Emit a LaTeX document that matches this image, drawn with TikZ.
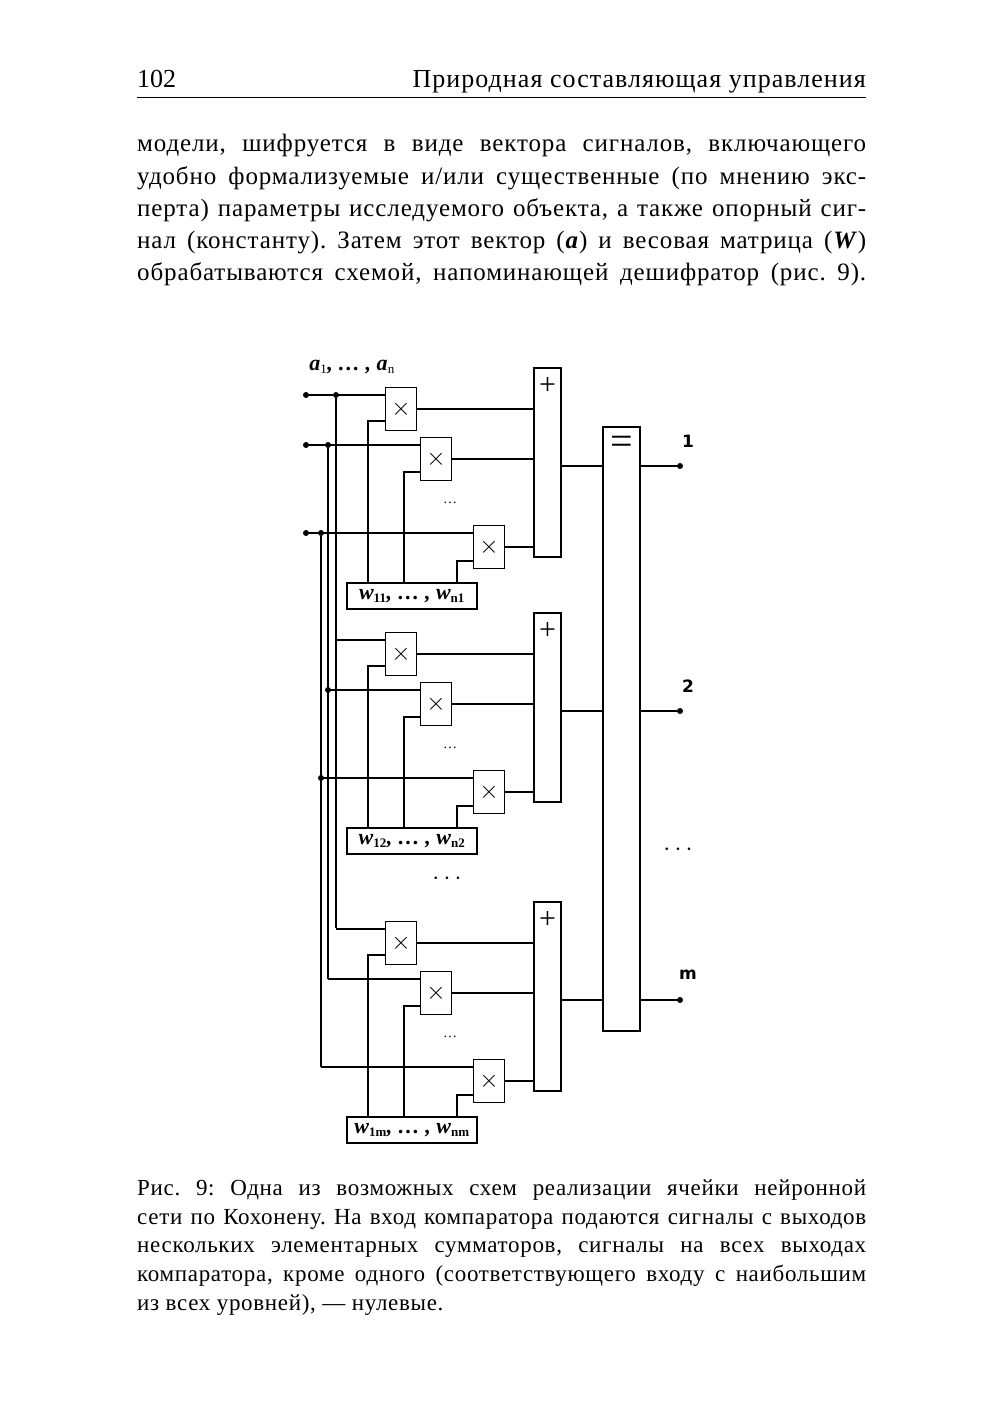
\documentclass[tikz,border=0pt]{standalone}
\usepackage{fontspec}
\setmainfont{Liberation Serif}
\newfontfamily\lblsans{DejaVu Sans}
\frenchspacing
\begin{document}
\begin{tikzpicture}[x=1pt,y=-1pt,
  wire/.style={line width=1.5pt},
  box/.style={draw,line width=1.5pt,inner sep=0pt},
  mult/.style={box,minimum width=31pt,minimum height=43pt,font=\fontsize{26}{26}\selectfont},
  dot/.style={circle,fill,inner sep=0pt,minimum size=6pt},
  body/.style={anchor=base west,inner sep=0pt,font=\fontsize{25}{30}\selectfont\addfontfeatures{LetterSpace=3.5}\frenchspacing},
  capt/.style={anchor=base west,inner sep=0pt,font=\fontsize{23}{28}\selectfont\addfontfeatures{LetterSpace=3}\frenchspacing},
  wlab/.style={font=\fontsize{22}{22}\selectfont\bfseries\itshape},
  olab/.style={font=\lblsans\bfseries\fontsize{17}{17}\selectfont}]
\useasboundingbox (0,0) rectangle (1000,1416);
% header
\node[anchor=base west,inner sep=0pt,font=\fontsize{26}{30}\selectfont] (pg) at (137,87) {102};
\node[anchor=base east,inner sep=0pt,font=\fontsize{26}{30}\selectfont\addfontfeatures{LetterSpace=4}] (hd) at (866,87) {Природная составляющая управления};
\draw[line width=1pt] (137,97) -- (866,97);
% body
\node[body] (b1) at (137,151) {\makebox[729pt][s]{модели, шифруется в виде вектора сигналов, включающего}};
\node[body] (b2) at (137,184) {\makebox[729pt][s]{удобно формализуемые и/или существенные (по мнению экс-}};
\node[body] (b3) at (137,216) {\makebox[729pt][s]{перта) параметры исследуемого объекта, а также опорный сиг-}};
\node[body] (b4) at (137,248) {\makebox[729pt][s]{нал (константу). Затем этот вектор (\textbf{\textit{a}}) и весовая матрица (\textbf{\textit{W}})}};
\node[body] (b5) at (137,280) {\makebox[729pt][s]{обрабатываются схемой, напоминающей дешифратор (рис. 9).}};
% caption
\node[capt] (c1) at (137,1195) {\makebox[729pt][s]{Рис. 9: Одна из возможных схем реализации ячейки нейронной}};
\node[capt] (c2) at (137,1224) {\makebox[729pt][s]{сети по Кохонену. На вход компаратора подаются сигналы с выходов}};
\node[capt] (c3) at (137,1252) {\makebox[729pt][s]{нескольких элементарных сумматоров, сигналы на всех выходах}};
\node[capt] (c4) at (137,1281) {\makebox[729pt][s]{компаратора, кроме одного (соответствующего входу с наибольшим}};
\node[capt] (c5) at (137,1310) {из всех уровней), — нулевые.};
% input label
\node[wlab] (alab) at (352,367) {a\textsubscript{\normalfont\fontsize{13}{13}\selectfont 1}, \dots\ , a\textsubscript{\normalfont\fontsize{13}{13}\selectfont n}};
% comparator
\node[box,minimum width=37pt,minimum height=604pt] (C) at (621.5,729) {};
\node[font=\fontsize{40}{40}\selectfont] (eq) at (621.5,445) {=};
% input dots
\node[dot] (i1) at (306,395) {};
\node[dot] (i2) at (306,445) {};
\node[dot] (i3) at (306,533) {};
\node[dot] (j1) at (336,395) {};
\node[dot] (j2) at (328,445) {};
\node[dot] (j3) at (321,533) {};
\node[dot] (k2) at (328,690) {};
\node[dot] (k3) at (321,778) {};
\coordinate (e1) at (336,928);
\coordinate (e2) at (328,979);
\coordinate (e3) at (321,1067);
\draw[wire] (j1) -- (e1);
\draw[wire] (j2) -- (e2);
\draw[wire] (j3) -- (e3);
\draw[wire] (i1) -- (j1);
\draw[wire] (i2) -- (j2);
\draw[wire] (i3) -- (j3);
% groups
\foreach \g/\o/\wa/\wb/\lab in {1/0/11/n1/1, 2/245/12/n2/2, 3/534/1m/nm/m} {
  \node[mult] (m1\g) at (401,409+\o) {$\times$};
  \node[mult] (m2\g) at (436,459+\o) {$\times$};
  \node[mult] (m3\g) at (489,547+\o) {$\times$};
  \node[box,minimum width=27pt,minimum height=189pt] (s\g) at (547.5,462.5+\o) {};
  \node[font=\fontsize{30}{30}\selectfont] (p\g) at (547.5,386+\o) {+};
  \node[box,minimum width=130pt,minimum height=26pt,wlab] (w\g) at (412,596+\o)
     {w\textsubscript{\normalfont\bfseries\fontsize{13}{13}\selectfont \wa}, \dots\ , w\textsubscript{\normalfont\bfseries\fontsize{13}{13}\selectfont \wb}};
  \node[font=\fontsize{14}{14}\selectfont] (d\g) at (450,503+\o) {\dots};
  \coordinate (r1\g) at (336,395+\o);
  \coordinate (r2\g) at (328,445+\o);
  \coordinate (r3\g) at (321,533+\o);
  \draw[wire] (r1\g) -- (m1\g.west |- r1\g);
  \draw[wire] (r2\g) -- (m2\g.west |- r2\g);
  \draw[wire] (r3\g) -- (m3\g.west |- r3\g);
  \coordinate (q1\g) at (368,421+\o);
  \coordinate (q2\g) at (404,472+\o);
  \coordinate (q3\g) at (457,561+\o);
  \draw[wire] (w\g.north -| q1\g) |- (m1\g.west |- q1\g);
  \draw[wire] (w\g.north -| q2\g) |- (m2\g.west |- q2\g);
  \draw[wire] (w\g.north -| q3\g) |- (m3\g.west |- q3\g);
  \draw[wire] (m1\g.east) -- (s\g.west |- m1\g.east);
  \draw[wire] (m2\g.east) -- (s\g.west |- m2\g.east);
  \draw[wire] (m3\g.east) -- (s\g.west |- m3\g.east);
  \coordinate (so\g) at (561,466+\o);
  \draw[wire] (s\g.east |- so\g) -- (C.west |- so\g);
  \node[dot] (o\g) at (680,466+\o) {};
  \draw[wire] (C.east |- so\g) -- (o\g);
  \node[olab] (ol\g) at (688,441+\o) {\lab};
}
\node[font=\fontsize{26}{26}\selectfont] (dm) at (447,879) {$\cdots$};
\node[font=\fontsize{26}{26}\selectfont] (dr) at (678,850) {$\cdots$};
\end{tikzpicture}
\end{document}
